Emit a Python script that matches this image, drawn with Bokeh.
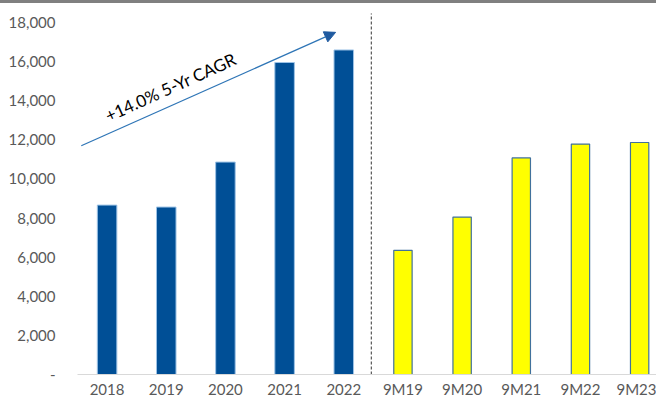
from bokeh.plotting import figure
from bokeh.models import ColumnDataSource, Range1d, FixedTicker, Arrow, NormalHead, Label, CustomJSTickFormatter
from bokeh.embed import file_html
from bokeh.resources import INLINE

categories = ["2018", "2019", "2020", "2021", "2022", "9M19", "9M20", "9M21", "9M22", "9M23"]
annual_values = [8660, 8560, 10860, 15950, 16590]
nine_month_values = [6350, 8050, 11070, 11780, 11860]
y_ticks = [0, 2000, 4000, 6000, 8000, 10000, 12000, 14000, 16000, 18000]

FONT = "Lato"
GRAY = "#595959"

xs_annual = list(range(len(annual_values)))
xs_nine = [len(annual_values) + i for i in range(len(nine_month_values))]

p = figure(width=656, height=397, output_backend="svg", toolbar_location=None,
           x_range=Range1d(-0.5, 9.285), y_range=Range1d(0, 18966),
           min_border_left=77, min_border_right=0, min_border_top=0, min_border_bottom=24)
# gray rule along the top edge of the chart
p.styles = {"border-top": "3px solid #808080"}
p.outline_line_color = None
p.xgrid.visible = False
p.ygrid.visible = False

src_a = ColumnDataSource(dict(x=xs_annual, top=annual_values))
src_n = ColumnDataSource(dict(x=xs_nine, top=nine_month_values))
p.vbar(x="x", top="top", width=0.33, source=src_a, fill_color="#004f96", line_color="#9dc3e6", line_width=1)
p.vbar(x="x", top="top", width=0.31, source=src_n, fill_color="#ffff00", line_color="#41719c", line_width=1.2)

# axes
p.xaxis.ticker = FixedTicker(ticks=list(range(len(categories))))
p.xaxis.major_label_overrides = {i: c for i, c in enumerate(categories)}
p.xaxis.axis_line_color = "#d9d9d9"
p.xaxis.major_tick_line_color = None
p.xaxis.minor_tick_line_color = None
p.xaxis.major_tick_out = 0
p.xaxis.minor_tick_out = 0
p.xaxis.major_label_text_font = FONT
p.xaxis.major_label_text_font_size = "15px"
p.xaxis.major_label_text_color = GRAY
p.xaxis.major_label_standoff = 5

p.yaxis.ticker = FixedTicker(ticks=y_ticks)
p.yaxis.formatter = CustomJSTickFormatter(code="return tick == 0 ? '-' : tick.toLocaleString('en-US');")
p.yaxis.axis_line_color = None
p.yaxis.major_tick_line_color = None
p.yaxis.minor_tick_line_color = None
p.yaxis.major_tick_out = 0
p.yaxis.minor_tick_out = 0
p.yaxis.major_label_text_font = FONT
p.yaxis.major_label_text_font_size = "15px"
p.yaxis.major_label_text_color = GRAY
p.yaxis.major_label_standoff = 22

# divider between annual and 9M periods
div_x = len(annual_values) - 0.535
p.segment(x0=[div_x], y0=[0], x1=[div_x], y1=[18457], line_color="#333333", line_width=1, line_dash="3 2")

# CAGR arrow
p.add_layout(Arrow(x_start=-0.436, y_start=11695, x_end=3.862, y_end=17491,
                   line_color="#2e75b6", line_width=1.2,
                   end=NormalHead(size=11, fill_color="#1f5aa0", line_color="#1f5aa0")))
p.add_layout(Label(x=1.073, y=14695, text="+14.0% 5-Yr CAGR", angle=24.4, angle_units="deg",
                   text_font=FONT, text_font_size="17px", text_color="black",
                   text_align="center", text_baseline="middle"))

open("out.html", "w").write(file_html(p, INLINE))
